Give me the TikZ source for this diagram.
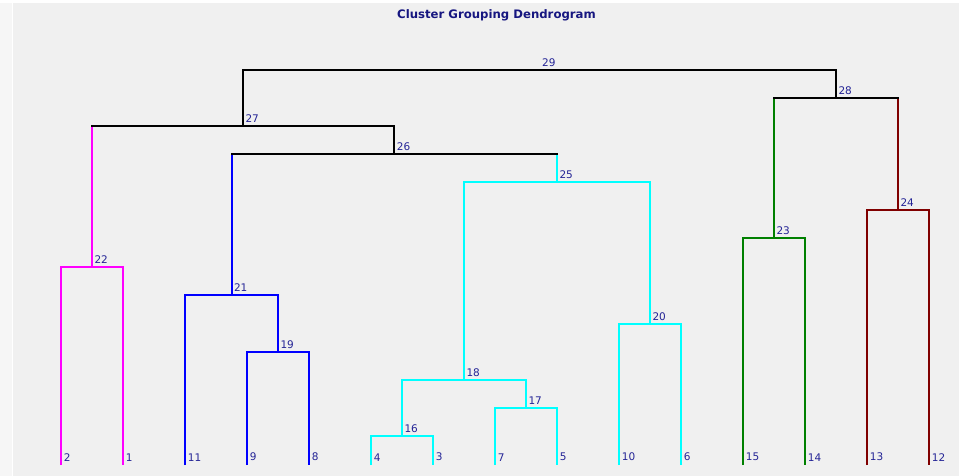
\documentclass[tikz,border=0pt]{standalone}
\usepackage{fontspec}
\setmainfont{DejaVu Sans}
\definecolor{hgrau}{RGB}{240,240,240}
\definecolor{rgrau}{RGB}{246,246,246}
\definecolor{magenta}{RGB}{255,0,255}
\definecolor{blau}{RGB}{0,0,255}
\definecolor{tuerkis}{RGB}{0,255,255}
\definecolor{gruen}{RGB}{0,128,0}
\definecolor{dunkelrot}{RGB}{128,0,0}
\definecolor{schrift}{RGB}{36,36,150}
\definecolor{titelblau}{RGB}{22,22,128}
\begin{document}
\begin{tikzpicture}[x=1pt,y=-1pt,
	ast/.style={line width=2pt},
	quer/.style={line width=2pt,line cap=rect},
	zahl/.style={text=schrift,font=\fontsize{10.5}{10.5}\selectfont,inner sep=1.2pt},
	titel/.style={text=titelblau,font=\fontsize{11.7}{12}\selectfont\bfseries}]
		\useasboundingbox (0,0) rectangle (959,476);
		\fill[hgrau] (0,0) rectangle (959,476);
		\fill[rgrau] (0,0) rectangle (12,476);
		\draw[white] (12.5,3) -- (12.5,476);
		\fill[white] (0,0) rectangle (959,3);
		\node[titel] (titel) at (496.5,15) {Cluster Grouping Dendrogram};
		%Blaetter
		\coordinate[label={[zahl,label distance=3.5pt,xshift=-1pt]above right:2}] (l2) at (61,465);
		\coordinate[label={[zahl,label distance=3.5pt,xshift=-1pt]above right:1}] (l1) at (123,465);
		\coordinate[label={[zahl,label distance=3.5pt,xshift=-1pt]above right:11}] (l11) at (185,465);
		\coordinate[label={[zahl,label distance=3.5pt,xshift=-1pt]above right:9}] (l9) at (247,465);
		\coordinate[label={[zahl,label distance=3.5pt,xshift=-1pt]above right:8}] (l8) at (309,465);
		\coordinate[label={[zahl,label distance=3.5pt,xshift=-1pt]above right:4}] (l4) at (371,465);
		\coordinate[label={[zahl,label distance=3.5pt,xshift=-1pt]above right:3}] (l3) at (433,465);
		\coordinate[label={[zahl,label distance=3.5pt,xshift=-1pt]above right:7}] (l7) at (495,465);
		\coordinate[label={[zahl,label distance=3.5pt,xshift=-1pt]above right:5}] (l5) at (557,465);
		\coordinate[label={[zahl,label distance=3.5pt,xshift=-1pt]above right:10}] (l10) at (619,465);
		\coordinate[label={[zahl,label distance=3.5pt,xshift=-1pt]above right:6}] (l6) at (681,465);
		\coordinate[label={[zahl,label distance=3.5pt,xshift=-1pt]above right:15}] (l15) at (743,465);
		\coordinate[label={[zahl,label distance=3.5pt,xshift=-1pt]above right:14}] (l14) at (805,465);
		\coordinate[label={[zahl,label distance=3.5pt,xshift=-1pt]above right:13}] (l13) at (867,465);
		\coordinate[label={[zahl,label distance=3.5pt,xshift=-1pt]above right:12}] (l12) at (929,465);
		%Verzweigungen
		\coordinate[label={[zahl,label distance=3pt,xshift=-1pt]above right:16}] (c16) at (402,436);
		\coordinate[label={[zahl,label distance=3pt,xshift=-1pt]above right:17}] (c17) at (526,408);
		\coordinate[label={[zahl,label distance=3pt,xshift=-1pt]above right:18}] (c18) at (464,380);
		\coordinate[label={[zahl,label distance=3pt,xshift=-1pt]above right:19}] (c19) at (278,352);
		\coordinate[label={[zahl,label distance=3pt,xshift=-1pt]above right:20}] (c20) at (650,324);
		\coordinate[label={[zahl,label distance=3pt,xshift=-1pt]above right:21}] (c21) at (231.5,295);
		\coordinate[label={[zahl,label distance=3pt,xshift=-1pt]above right:22}] (c22) at (92,267);
		\coordinate[label={[zahl,label distance=3pt,xshift=-1pt]above right:23}] (c23) at (774,238);
		\coordinate[label={[zahl,label distance=3pt,xshift=-1pt]above right:24}] (c24) at (898,210);
		\coordinate[label={[zahl,label distance=3pt,xshift=-1pt]above right:25}] (c25) at (557,182);
		\coordinate[label={[zahl,label distance=3pt,xshift=-1pt]above right:26}] (c26) at (394.3,154);
		\coordinate[label={[zahl,label distance=3pt,xshift=-1pt]above right:27}] (c27) at (243,126);
		\coordinate[label={[zahl,label distance=3pt,xshift=-1pt]above right:28}] (c28) at (836,98);
		\coordinate[label={[zahl,label distance=3pt,xshift=-1pt]above right:29}] (c29) at (539.6,70);
		%Gruppe magenta
		\draw[ast,magenta] (l2) |- (c22) -| (l1);
		%Gruppe blau
		\draw[ast,blau] (l9) |- (c19) -| (l8);
		\draw[ast,blau] (l11) |- (c21) -| (c19);
		%Gruppe tuerkis
		\draw[ast,tuerkis] (l4) |- (c16) -| (l3);
		\draw[ast,tuerkis] (l7) |- (c17) -| (l5);
		\draw[ast,tuerkis] (c16) |- (c18) -| (c17);
		\draw[ast,tuerkis] (l10) |- (c20) -| (l6);
		\draw[ast,tuerkis] (c18) |- (c25) -| (c20);
		%Gruppe gruen
		\draw[ast,gruen] (l15) |- (c23) -| (l14);
		%Gruppe dunkelrot
		\draw[ast,dunkelrot] (l13) |- (c24) -| (l12);
		%obere Verbindungen
		\draw[ast,blau] (c21) -- (c21|-c26);
		\draw[ast,tuerkis] (c25) -- (c25|-c26);
		\draw[quer,black] (c21|-c26) -- (c25|-c26);
		\draw[ast,magenta] (c22) -- (c22|-c27);
		\draw[ast,black] (c26) -- (c26|-c27);
		\draw[quer,black] (c22|-c27) -- (c26|-c27);
		\draw[ast,gruen] (c23) -- (c23|-c28);
		\draw[ast,dunkelrot] (c24) -- (c24|-c28);
		\draw[quer,black] (c23|-c28) -- (c24|-c28);
		\draw[ast,black] (c27) |- (c29) -| (c28);
\end{tikzpicture}
\end{document}
